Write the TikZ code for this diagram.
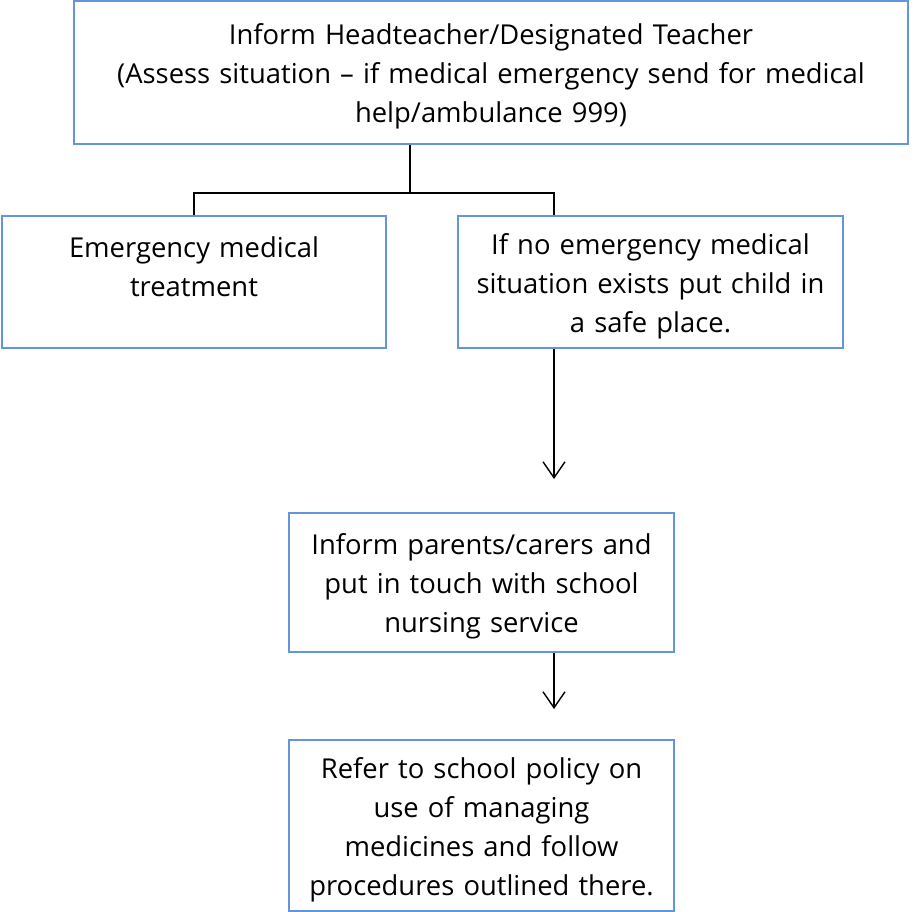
\documentclass[tikz,border=0pt]{standalone}
\usepackage{fontspec}
\setmainfont{Open Sans}
\usetikzlibrary{arrows.meta}
\definecolor{boxblue}{RGB}{100,148,218}

\begin{document}
\begin{tikzpicture}[x=1pt,y=-1pt,
    box/.style={draw=boxblue,line width=2pt,align=center,inner sep=0pt,
      font=\fontsize{27.4}{39}\selectfont,
      execute at begin node={\rule{0pt}{29pt}}},
    link/.style={line width=1.4pt},
    arr/.style={line width=1.4pt,-{Straight Barb[length=16pt,width=22pt]}}]
    % Define the page
    \useasboundingbox (0,0) rectangle (915,912);

    % Draw the boxes
    \node[box,minimum width=834pt,minimum height=143pt,text width=820pt] (head) at (491,72.5)
      {Inform Headteacher/Designated Teacher\\(Assess situation -- if medical emergency send for medical\\help/ambulance 999)};
    \node[box,minimum width=384pt,minimum height=132pt,text width=370pt] (treat) at (194,282)
      {Emergency medical\\treatment\\\mbox{}};
    \node[box,minimum width=385pt,minimum height=132pt,text width=370pt] (safe) at (650.5,282)
      {If no emergency medical\\situation exists put child in\\a safe place.};
    \node[box,minimum width=385pt,minimum height=139pt,text width=370pt] (parents) at (481.5,582.5)
      {Inform parents/carers and\\put in touch with school\\nursing service};
    \node[box,minimum width=385pt,minimum height=171pt,text width=370pt] (policy) at (481.5,825.5)
      {Refer to school policy on\\use of managing\\medicines and follow\\procedures outlined there.};

    % Draw the split below the top box
    \coordinate (split) at (410,193);
    \coordinate (drop) at (554,193);
    \draw[link] (head.south -| split) -- (split);
    \draw[link] (treat.north) |- (split) -| (drop |- safe.north);

    % Draw the arrows
    \draw[arr,shorten >=33pt] (drop |- safe.south) -- (drop |- parents.north);
    \draw[arr,shorten >=30pt] (drop |- parents.south) -- (drop |- policy.north);
\end{tikzpicture}
\end{document}
